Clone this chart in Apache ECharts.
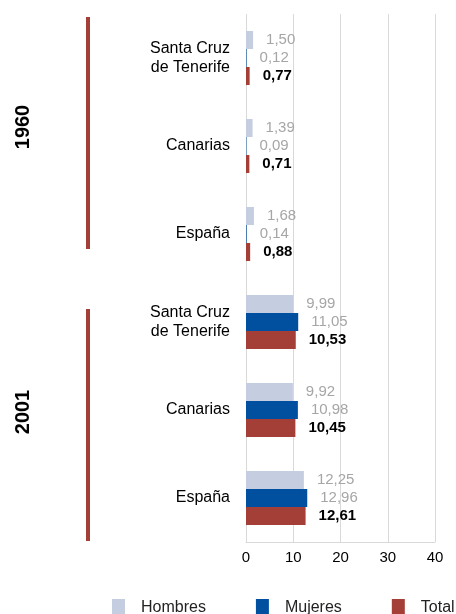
<!DOCTYPE html>
<html>
<head>
<meta charset="utf-8">
<script src="https://cdn.jsdelivr.net/npm/echarts@6/dist/echarts.min.js"></script>
<style>
    html, body { margin: 0; padding: 0; background: #fff; }
    #chart { width: 456px; height: 614px; }
</style>
</head>
<body>
<div id="chart"></div>
<script>
    // categorias (de arriba a abajo)
    var categories = ['Santa Cruz\nde Tenerife', 'Canarias', 'España', 'Santa Cruz\nde Tenerife', 'Canarias', 'España'];
    var years = ['1960', '2001'];
    var hombres = [1.50, 1.39, 1.68, 9.99, 9.92, 12.25];
    var mujeres = [0.12, 0.09, 0.14, 11.05, 10.98, 12.96];
    var total = [0.77, 0.71, 0.88, 10.53, 10.45, 12.61];
    var xTicks = [0, 10, 20, 30, 40];

    var font = '"Liberation Sans", Arial, sans-serif';

    function fmt (p) {
        return p.value.toFixed(2).replace('.', ',');
    }

    var chart = echarts.init(document.getElementById('chart'));

    function barSeries (name, data, color, bold) {
        return {
            name: name,
            type: 'bar',
            data: data,
            barWidth: 18,
            barGap: '0%',
            itemStyle: { color: color },
            label: {
                show: true,
                position: 'right',
                distance: 13,
                formatter: fmt,
                fontFamily: font,
                fontSize: 15,
                fontWeight: bold ? 'bold' : 'normal',
                color: bold ? '#000' : '#a6a6a6'
            }
        };
    }

    var option = {
        animation: false,
        textStyle: { fontFamily: font },
        grid: { left: 246, right: 21, top: 14, bottom: 72 },
        legend: {
            top: 594,
            left: 107,
            width: 1000,
            itemWidth: 13,
            itemHeight: 18,
            itemGap: 50,
            icon: 'rect',
            textStyle: { fontSize: 16, color: '#222', padding: [0, 0, 0, 11], fontFamily: font },
            data: ['Hombres', 'Mujeres', 'Total']
        },
        xAxis: {
            type: 'value',
            min: xTicks[0],
            max: xTicks[xTicks.length - 1],
            interval: 10,
            axisLine: { show: true, lineStyle: { color: '#d9d9d9' } },
            axisTick: { show: false },
            splitLine: { show: true, lineStyle: { color: '#d9d9d9', width: 1 } },
            axisLabel: { color: '#000', fontSize: 15, margin: 8, fontFamily: font }
        },
        yAxis: {
            type: 'category',
            inverse: true,
            data: categories,
            axisLine: { show: false },
            axisTick: { show: false },
            axisLabel: { color: '#000', fontSize: 16, margin: 16, lineHeight: 19, fontFamily: font }
        },
        series: [
            barSeries('Hombres', hombres, '#c5cde1', false),
            barSeries('Mujeres', mujeres, '#00509f', false),
            barSeries('Total', total, '#a43f37', true)
        ]
    };
    chart.setOption(option);

    // lineas y etiquetas de grupo (año) a partir del eje de categorias
    var half = 44;
    var g1a = chart.convertToPixel({ yAxisIndex: 0 }, 0) - half;
    var g1b = chart.convertToPixel({ yAxisIndex: 0 }, 2) + half;
    var g2a = chart.convertToPixel({ yAxisIndex: 0 }, 3) - half;
    var g2b = chart.convertToPixel({ yAxisIndex: 0 }, 5) + half;
    var groups = [
        { y1: g1a + 3, y2: g1b - 29, mid: (g1a + g1b) / 2 - 19 },
        { y1: g2a + 31, y2: g2b - 1, mid: (g2a + g2b) / 2 + 2 }
    ];
    var graphics = [];
    groups.forEach(function (g, i) {
        graphics.push({
            type: 'line',
            shape: { x1: 88, y1: g.y1, x2: 88, y2: g.y2 },
            style: { stroke: '#a43f37', lineWidth: 4 }
        });
        graphics.push({
            type: 'text',
            x: 23,
            y: g.mid,
            rotation: Math.PI / 2,
            style: {
                text: years[i],
                font: 'bold 20px ' + font,
                fill: '#000',
                align: 'center',
                verticalAlign: 'middle'
            }
        });
    });
    chart.setOption({ graphic: graphics });
</script>
</body>
</html>
